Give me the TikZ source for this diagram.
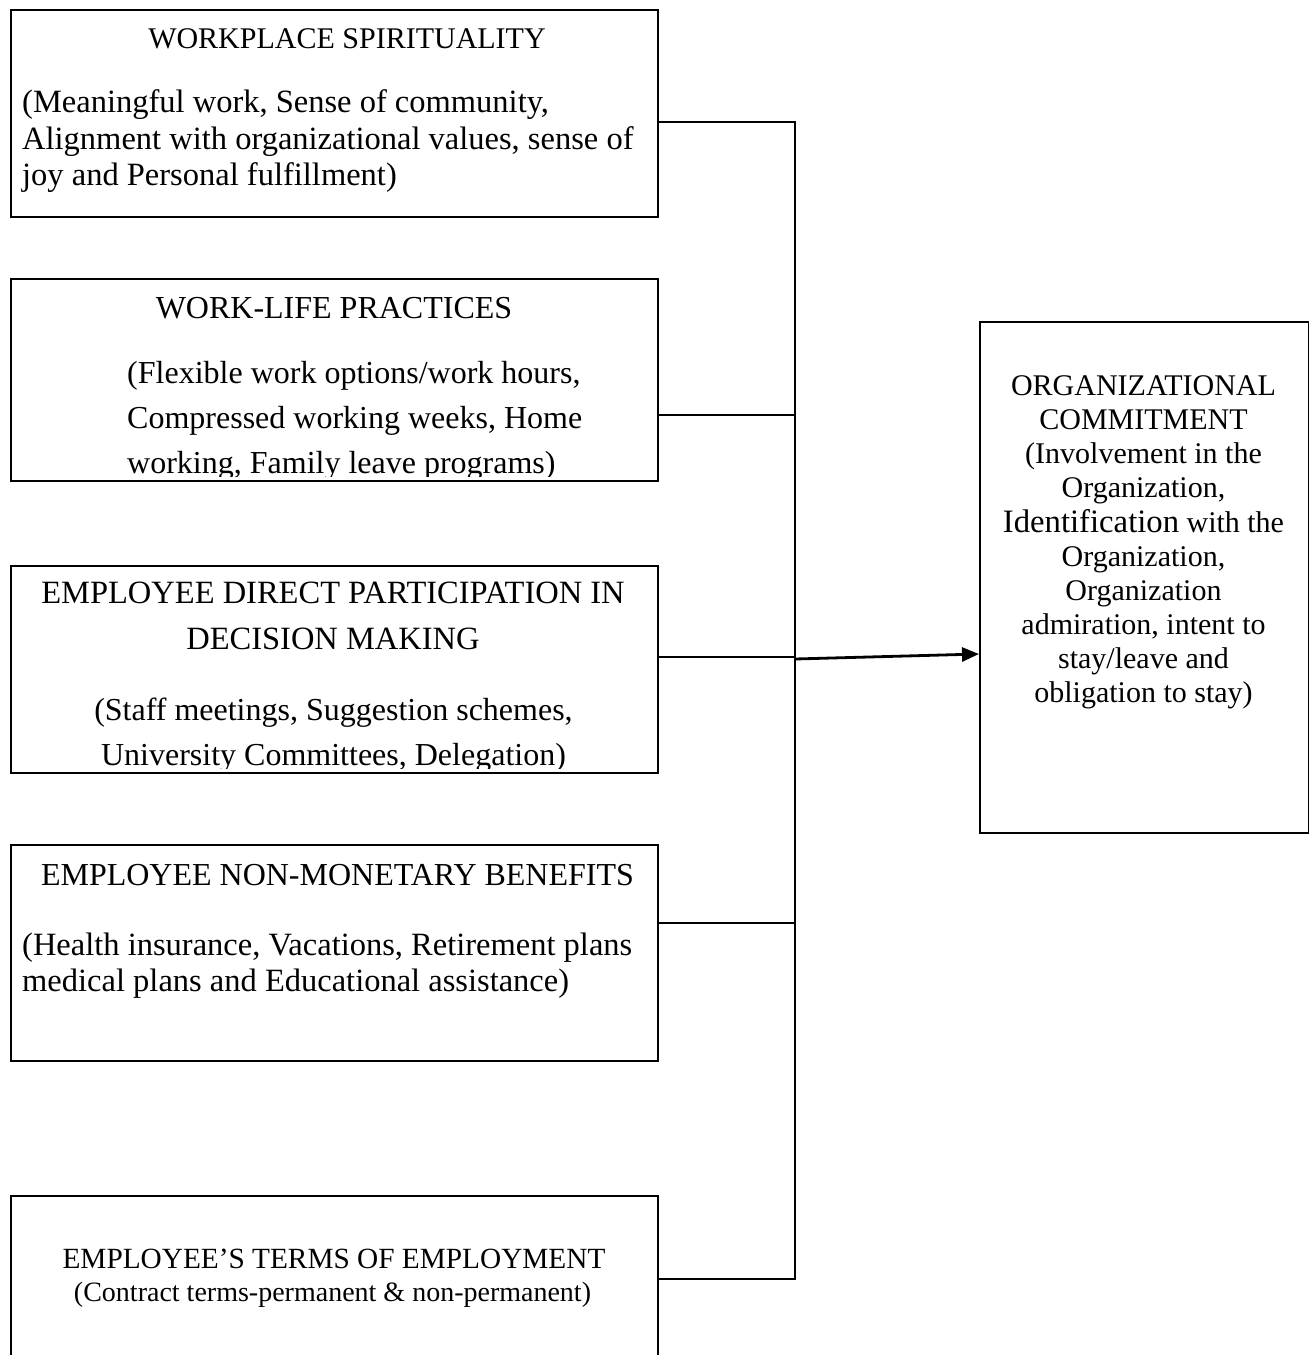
\documentclass[tikz,border=0pt]{standalone}
\usepackage{fontspec}
\setmainfont{Liberation Serif}
\usetikzlibrary{arrows.meta}
\begin{document}
\begin{tikzpicture}[x=1pt,y=-1pt,
  boxst/.style={draw, line width=2pt, inner sep=0pt, anchor=north west},
  tl/.style={inner sep=0pt, font=\fontsize{32.5}{36}\selectfont},
  th/.style={inner sep=0pt, font=\fontsize{32}{36}\selectfont},
  rt/.style={inner sep=0pt, anchor=base, font=\fontsize{30}{34}\selectfont},
  conn/.style={line width=2pt},
  arr/.style={line width=2.8pt, -{Triangle[length=17pt,width=14pt]}}]
\useasboundingbox (0,0) rectangle (1309,1355);
\fill[white] (0,0) rectangle (1309,1355);
\begin{scope}
\clip (0,0) rectangle (1309,1355);
% boxes
\node[boxst, minimum width=647pt, minimum height=207pt] (b1) at (10,9) {};
\node[boxst, minimum width=647pt, minimum height=202pt] (b2) at (10,278) {};
\node[boxst, minimum width=647pt, minimum height=207pt] (b3) at (10,565) {};
\node[boxst, minimum width=647pt, minimum height=216pt] (b4) at (10,844) {};
\node[boxst, minimum width=647pt, minimum height=200pt] (b5) at (10,1195) {};
\node[boxst, minimum width=329pt, minimum height=511pt] (oc) at (979,321) {};

% box 1
\node[inner sep=0pt, anchor=base, font=\fontsize{30}{36}\selectfont] (t1h) at (347,48) {WORKPLACE SPIRITUALITY};
\node[tl, anchor=base west] (t1a) at (22,112) {(Meaningful work, Sense of community,};
\node[tl, anchor=base west] (t1b) at (22,149) {Alignment with organizational values, sense of};
\node[tl, anchor=base west] (t1c) at (22,185) {joy and Personal fulfillment)};

% box 2
\node[th, anchor=base] (t2h) at (334,318) {WORK-LIFE PRACTICES};
\node[th, anchor=base west] (t2a) at (127,383) {(Flexible work options/work hours,};
\node[th, anchor=base west] (t2b) at (127,428) {Compressed working weeks, Home};
\begin{scope}
\clip (10,278) rectangle (657,476);
\node[th, anchor=base west] (t2c) at (127,473) {working, Family leave programs)};
\end{scope}

% box 3
\node[tl, anchor=base] (t3h) at (333,603) {EMPLOYEE DIRECT PARTICIPATION IN};
\node[tl, anchor=base] (t3i) at (333,649) {DECISION MAKING};
\node[th, anchor=base] (t3a) at (333.5,720) {(Staff meetings, Suggestion schemes,};
\begin{scope}
\clip (10,565) rectangle (657,768);
\node[th, anchor=base] (t3b) at (333.5,765) {University Committees, Delegation)};
\end{scope}

% box 4
\node[th, anchor=base] (t4h) at (337.5,885) {EMPLOYEE NON-MONETARY BENEFITS};
\node[tl, anchor=base west] (t4a) at (22,955) {(Health insurance, Vacations, Retirement plans};
\node[tl, anchor=base west] (t4b) at (22,991) {medical plans and Educational assistance)};

% box 5
\node[inner sep=0pt, anchor=base, font=\fontsize{29.3}{34}\selectfont] (t5h) at (334,1268) {EMPLOYEE’S TERMS OF EMPLOYMENT};
\node[inner sep=0pt, anchor=base, font=\fontsize{28}{34}\selectfont] (t5a) at (332.5,1301) {(Contract terms-permanent \& non-permanent)};

% right box
\node[rt] (r1) at (1143.5,395) {ORGANIZATIONAL};
\node[rt] (r2) at (1143.5,429) {COMMITMENT};
\node[rt] (r3) at (1143.5,463) {(Involvement in the};
\node[rt] (r4) at (1143.5,497) {Organization,};
\node[rt] (r5) at (1143.5,532) {{\fontsize{32.7}{34}\selectfont Identification} with the};
\node[rt] (r6) at (1143.5,566) {Organization,};
\node[rt] (r7) at (1143.5,600) {Organization};
\node[rt] (r8) at (1143.5,634) {admiration, intent to};
\node[rt] (r9) at (1143.5,668) {stay/leave and};
\node[rt] (r10) at (1143.5,702) {obligation to stay)};

% connectors
\coordinate (v1) at (795,122);
\coordinate (v2) at (795,415);
\coordinate (v3) at (795,657);
\coordinate (v4) at (795,923);
\coordinate (v5) at (795,1279);
\draw[conn] (b1.east |- v1) -- (v1) -- (v5) -- (b5.east |- v5);
\draw[conn] (b2.east |- v2) -- (v2);
\draw[conn] (b3.east |- v3) -- (v3);
\draw[conn] (b4.east |- v4) -- (v4);
\coordinate (a0) at (795,659);
\coordinate (a1) at (979,654);
\draw[arr] (a0) -- (oc.west |- a1);
\end{scope}
\end{tikzpicture}
\end{document}
